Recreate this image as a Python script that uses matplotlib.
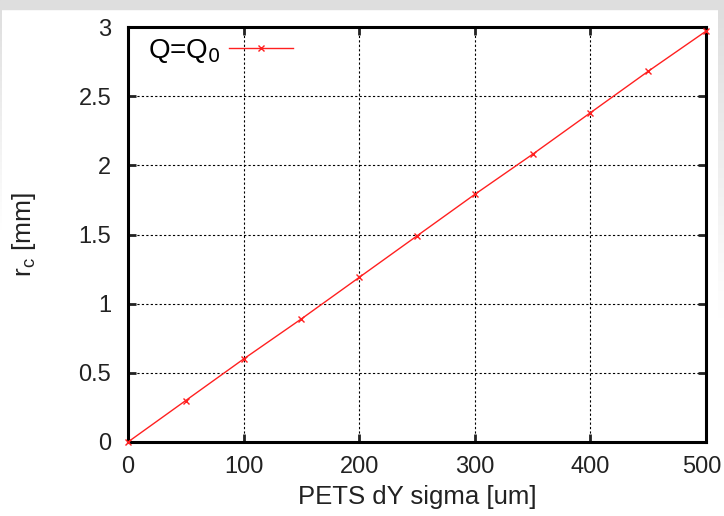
import matplotlib
matplotlib.use("Agg")
import matplotlib.pyplot as plt
import matplotlib.transforms as mtransforms
import numpy as np
from matplotlib.patches import Rectangle

sigma = [0, 50, 100, 150, 200, 250, 300, 350, 400, 450, 500]
rc = [0.0, 0.30, 0.60, 0.89, 1.19, 1.49, 1.79, 2.08, 2.38, 2.68, 2.97]

plt.rcParams['font.family'] = ['Liberation Sans', 'DejaVu Sans']


def side_shade(fig, x0, w, fade_px):
    # grey strip that fades to white going down (window shadow)
    sax = fig.add_axes([x0 / 724, 0, w / 724, 1], zorder=-10)
    rows = np.linspace(0, 516, 200)
    alpha = np.clip(1 - rows / fade_px, 0, 1)
    img = np.ones((200, 1, 4))
    img[:, 0, :3] = 0.87
    img[:, 0, 3] = alpha
    sax.imshow(img, aspect="auto", extent=(0, 1, 0, 1), origin="upper")
    sax.axis("off")


def main():
    fig = plt.figure(figsize=(7.24, 5.16), dpi=100)
    fig.patches.append(Rectangle((0, 1 - 9 / 516), 1, 9 / 516, transform=fig.transFigure,
                                 color="#dedede", zorder=-5))
    side_shade(fig, 718, 6, 320)
    side_shade(fig, 0, 2, 230)

    ax = fig.add_axes([128 / 724, 74 / 516, 578 / 724, 415 / 516])
    ax.patch.set_alpha(0)
    ax.plot(sigma, rc, color="#ff2020", lw=1.0, marker="x", ms=5, mew=1.0,
            label="Q=Q$_0$", clip_on=False, zorder=3)

    ax.set_xlim(0, 500)
    ax.set_ylim(0, 3)
    ax.set_xticks([0, 100, 200, 300, 400, 500])
    ax.set_yticks([0, 0.5, 1, 1.5, 2, 2.5, 3])
    ax.set_yticklabels(["0", "0.5", "1", "1.5", "2", "2.5", "3"])
    ax.grid(True, color="black", linestyle=(0, (2, 2)), lw=0.8)
    for s in ax.spines.values():
        s.set_linewidth(2.2)
    ax.tick_params(direction="in", length=6, width=2, top=True, right=True,
                   labelsize=17, pad=10, colors="#222222")
    ax.tick_params(axis="y", pad=12)

    # nudge the last x label so it stays inside the picture
    last = ax.get_xticklabels()[-1]
    last.set_transform(last.get_transform() +
                       mtransforms.ScaledTranslation(-4 / 100, 0, fig.dpi_scale_trans))

    ax.set_xlabel("PETS dY sigma [um]", fontsize=18.5, color="#222222", labelpad=5)
    ax.set_ylabel("r$_\\mathregular{c}$ [mm]", fontsize=19, color="#222222", labelpad=29)

    ax.legend(loc="upper left", markerfirst=False, frameon=False, fontsize=20,
              handlelength=2.3, handletextpad=0.3, borderaxespad=0.1,
              bbox_to_anchor=(0.01, 1.01))

    fig.savefig("out.png", dpi=100)


if __name__ == "__main__":
    main()
